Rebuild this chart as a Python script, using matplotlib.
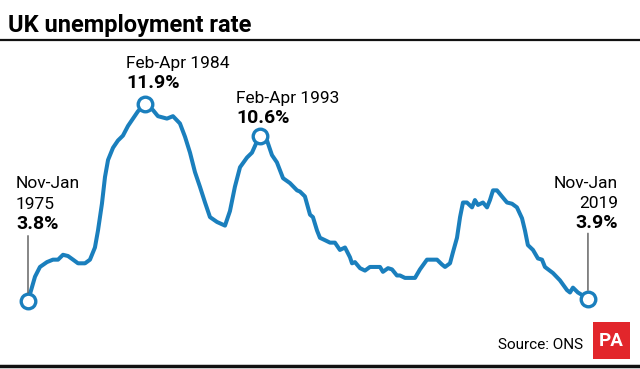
import matplotlib.pyplot as plt
from matplotlib.patches import Rectangle

plt.rcParams['font.family'] = ['Roboto', 'DejaVu Sans']

# decimal year and unemployment rate (%)
years = [1975.0, 1975.55, 1975.94, 1976.49, 1976.96, 1977.36, 1977.75, 1978.14,
         1978.54, 1978.93, 1979.48, 1979.87, 1980.26, 1980.5, 1980.81, 1981.05,
         1981.29, 1981.68, 1982.07, 1982.46, 1982.86, 1983.25, 1983.64, 1984.2,
         1984.82, 1985.21, 1985.92, 1986.39, 1986.94, 1987.34, 1987.73, 1988.12,
         1988.51, 1988.91, 1989.3, 1989.85, 1990.48, 1990.87, 1991.26, 1991.66,
         1992.21, 1992.6, 1993.2, 1993.78, 1994.17, 1994.56, 1995.04, 1995.58,
         1996.14, 1996.37, 1996.76, 1997.16, 1997.39, 1997.71, 1997.94, 1998.34,
         1998.73, 1999.12, 1999.51, 1999.91, 2000.3, 2000.46, 2000.69, 2001.09,
         2001.48, 2001.87, 2002.66, 2002.89, 2003.29, 2003.6, 2003.99, 2004.23,
         2004.62, 2005.41, 2005.8, 2006.35, 2007.14, 2007.53, 2007.77, 2008.16,
         2008.39, 2008.71, 2008.95, 2009.18, 2009.49, 2009.89, 2010.12, 2010.36,
         2010.75, 2011.07, 2011.3, 2011.54, 2011.85, 2012.24, 2012.64, 2013.03,
         2013.42, 2013.82, 2014.05, 2014.28, 2014.68, 2015.07, 2015.39, 2015.62,
         2016.25, 2016.8, 2017.35, 2017.59, 2017.82, 2018.21, 2019.0]
rate = [3.8, 4.8, 5.2, 5.4, 5.5, 5.5, 5.7, 5.65,
        5.5, 5.35, 5.35, 5.5, 6.0, 6.7, 7.8, 8.9,
        9.6, 10.1, 10.4, 10.6, 11.0, 11.3, 11.6, 11.9,
        11.65, 11.4, 11.3, 11.4, 11.1, 10.55, 9.9, 9.1,
        8.5, 7.85, 7.25, 7.05, 6.9, 7.5, 8.5, 9.3,
        9.7, 9.9, 10.6, 10.4, 9.8, 9.5, 8.85, 8.65,
        8.35, 8.3, 8.1, 7.35, 7.25, 6.7, 6.4, 6.3,
        6.2, 6.2, 5.9, 6.0, 5.6, 5.35, 5.4, 5.15,
        5.05, 5.2, 5.2, 5.0, 5.15, 5.1, 4.85, 4.85,
        4.75, 4.75, 5.1, 5.5, 5.5, 5.3, 5.2, 5.35,
        5.8, 6.4, 7.25, 7.85, 7.85, 7.65, 7.95, 7.75,
        7.85, 7.65, 7.95, 8.35, 8.35, 8.1, 7.85, 7.8,
        7.65, 7.2, 6.7, 6.1, 5.9, 5.55, 5.5, 5.2,
        4.95, 4.65, 4.25, 4.15, 4.35, 4.15, 3.9]

# highlighted points: (year, rate)
hl_years = [1975.0, 1984.2, 1993.2, 2019.0]
hl_rates = [3.8, 11.9, 10.6, 3.9]

blue = '#1a7fbd'
W, H = 640, 369

fig = plt.figure(figsize=(W / 100, H / 100), dpi=100)
ax = fig.add_axes([0, 0, 1, 1])
ax.set_xlim(1972.80, 2023.09)
ax.set_ylim(1.004, 16.177)
ax.axis('off')

ax.plot(years, rate, color=blue, lw=2.9, solid_joinstyle='round', zorder=2)
ax.plot(hl_years, hl_rates, 'o', ls='none', ms=10.5, mfc='white', mec=blue,
        mew=2.4, zorder=3)


def px(x, y):
    return x / W, 1 - y / H


# connector lines for the end points
for i in (0, 3):
    ax.annotate('', xy=(hl_years[i], hl_rates[i]), xytext=(0, 47),
                textcoords='offset points',
                arrowprops=dict(arrowstyle='-', color='#555555', lw=1,
                                shrinkA=0, shrinkB=6))

reg = dict(fontsize=12.5, va='baseline')
bold = dict(fontsize=14, fontweight='bold', va='baseline')

fig.text(*px(16, 188), "Nov-Jan", ha='left', **reg)
fig.text(*px(16, 209), "1975", ha='left', **reg)
fig.text(*px(16, 229), "3.8%", ha='left', **bold)

fig.text(*px(126, 68), "Feb-Apr 1984", ha='left', **reg)
fig.text(*px(126, 88), "11.9%", ha='left', **bold)

fig.text(*px(236, 103), "Feb-Apr 1993", ha='left', **reg)
fig.text(*px(236, 123), "10.6%", ha='left', **bold)

fig.text(*px(618, 188), "Nov-Jan", ha='right', **reg)
fig.text(*px(618, 208), "2019", ha='right', **reg)
fig.text(*px(618, 228), "3.9%", ha='right', **bold)

# title and rules
fig.text(*px(8, 32), "UK unemployment rate", fontsize=17, fontweight='bold',
         ha='left', va='baseline')
fig.add_artist(plt.Line2D([0, 1], [1 - 40 / H, 1 - 40 / H], color='#111111', lw=1.6))
fig.add_artist(plt.Line2D([0, 1], [1 - 366 / H, 1 - 366 / H], color='#111111', lw=2.5))

# source and PA logo
fig.text(*px(583, 349), "Source: ONS", fontsize=11, ha='right', va='baseline')
fig.add_artist(Rectangle(px(593, 359), 37 / W, 37 / H, facecolor='#e2262b',
                         edgecolor='none', transform=fig.transFigure))
fig.text(*px(611.5, 341), "PA", fontsize=13.5, fontweight='bold', color='white',
         ha='center', va='center')

fig.savefig('out.png', dpi=100)
